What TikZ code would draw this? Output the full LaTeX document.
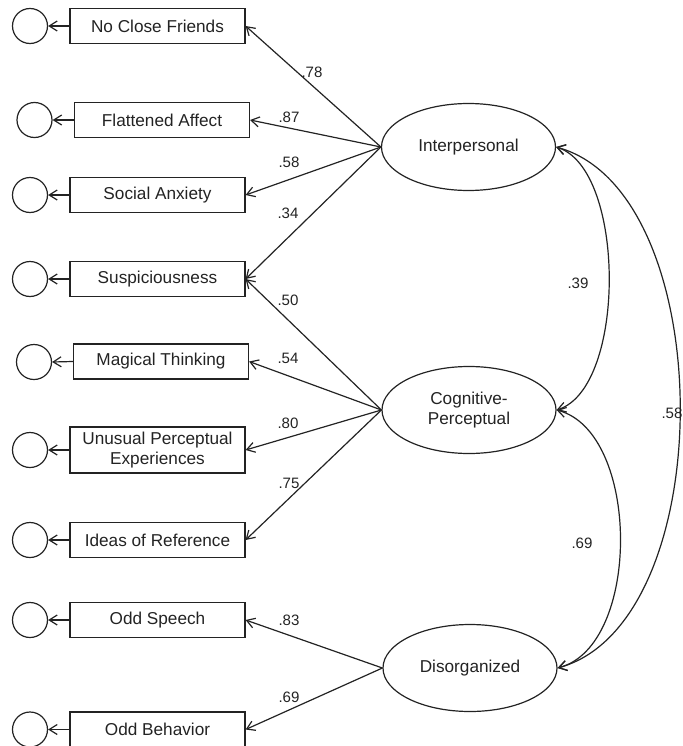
\documentclass[tikz,border=0pt]{standalone}
\usepackage{fontspec}
\setmainfont{Liberation Sans}
\usetikzlibrary{shapes.geometric,arrows.meta}

\definecolor{ink}{RGB}{35,35,35}
\tikzset{every picture/.style={line width=0.9pt}}
\tikzset{
  obsbox/.style={draw=ink, text=ink, rectangle, minimum width=131.25pt, minimum height=26.25pt, inner sep=1pt, align=center, font=\fontsize{12.9}{14.5}\selectfont},
  errcirc/.style={draw=ink, circle, minimum size=26.25pt, inner sep=0pt},
  latent/.style={draw=ink, text=ink, ellipse, minimum width=130.5pt, minimum height=65.25pt, inner sep=0pt, align=center, font=\fontsize{12.9}{14.5}\selectfont},
  coef/.style={text=ink, inner sep=0pt, font=\fontsize{11.3}{12}\selectfont},
  barb/.tip={Straight Barb[length=6pt,width=7.5pt]},
  load/.style={draw=ink, -barb},
  cov/.style={draw=ink, barb-barb}
}

\begin{document}
\begin{tikzpicture}[x=0.75pt,y=0.75pt,yscale=-1,xscale=1]
        \useasboundingbox (0,0) rectangle (682,746);

        %Shape: Ellipse [latent factors]
        \node [latent] (inter) at (468.5,147) {Interpersonal};
        \node [latent] (cogper) at (469,410) {Cognitive-\\Perceptual};
        \node [latent] (disorg) at (470,668) {Disorganized};

        %Shape: Rectangle [indicators]
        \node [obsbox] (friends) at (157.5,26) {No Close Friends};
        \node [obsbox] (affect) at (162,120) {Flattened Affect};
        \node [obsbox] (anxiety) at (157.5,195) {Social Anxiety};
        \node [obsbox] (suspic) at (157.5,279) {Suspiciousness};
        \node [obsbox] (magical) at (161,361.5) {Magical Thinking};
        \node [obsbox, minimum height=34.5pt] (unusual) at (157.5,450) {Unusual Perceptual\\Experiences};
        \node [obsbox] (ideas) at (157.5,540) {Ideas of Reference};
        \node [obsbox] (speech) at (157.5,620) {Odd Speech};
        \node [obsbox] (behav) at (157.5,729.5) {Odd Behavior};

        %Shape: Circle [error terms]
        \node [errcirc] (efriends) at (30,26) {};
        \node [errcirc] (eaffect) at (34.5,120) {};
        \node [errcirc] (eanxiety) at (30,195) {};
        \node [errcirc] (esuspic) at (30,279) {};
        \node [errcirc] (emagical) at (34,362) {};
        \node [errcirc] (eunusual) at (30,450) {};
        \node [errcirc] (eideas) at (30,540) {};
        \node [errcirc] (espeech) at (30,620) {};
        \node [errcirc] (ebehav) at (30,729.5) {};

        %Straight Lines [errors]
        \draw [load] (friends.west) -- (efriends.east);
        \draw [load] (affect.west) -- (eaffect.east);
        \draw [load] (anxiety.west) -- (eanxiety.east);
        \draw [load] (suspic.west) -- (esuspic.east);
        \draw [load] (magical.west) -- (emagical.east);
        \draw [load] (unusual.west) -- (eunusual.east);
        \draw [load] (ideas.west) -- (eideas.east);
        \draw [load] (speech.west) -- (espeech.east);
        \draw [load] (behav.west) -- (ebehav.east);

        %Straight Lines [loadings]
        \draw [load] (inter.west) -- (friends.east);
        \draw [load] (inter.west) -- (affect.east);
        \draw [load] (inter.west) -- (anxiety.east);
        \draw [load] (inter.west) -- (suspic.east);
        \draw [load] (cogper.west) -- (suspic.east);
        \draw [load] (cogper.west) -- (magical.east);
        \draw [load] (cogper.west) -- (unusual.east);
        \draw [load] (cogper.west) -- (ideas.east);
        \draw [load] (disorg.west) -- (speech.east);
        \draw [load] (disorg.west) -- (behav.east);

        %Curve Lines [covariances]
        \draw [cov] (inter.east) .. controls +(70,22) and +(70,-22) .. (cogper.east);
        \draw [cov] (cogper.east) .. controls +(84,22) and +(84,-22) .. (disorg.east);
        \draw [cov] (inter.east) .. controls +(164,45) and +(164,-45) .. (disorg.east);

        %Text [coefficients]
        \node [coef] (c1) at (312,72) {.78};
        \node [coef] (c2) at (289,117) {.87};
        \node [coef] (c3) at (289,162) {.58};
        \node [coef] (c4) at (288,213) {.34};
        \node [coef] (c5) at (288,300) {.50};
        \node [coef] (c6) at (288,358) {.54};
        \node [coef] (c7) at (288,423) {.80};
        \node [coef] (c8) at (289,483) {.75};
        \node [coef] (c9) at (289,620) {.83};
        \node [coef] (c10) at (289,697) {.69};
        \node [coef] (c11) at (578,283) {.39};
        \node [coef] (c12) at (582,543) {.69};
        \node [coef] (c13) at (672,413) {.58};

    \end{tikzpicture}
\end{document}
